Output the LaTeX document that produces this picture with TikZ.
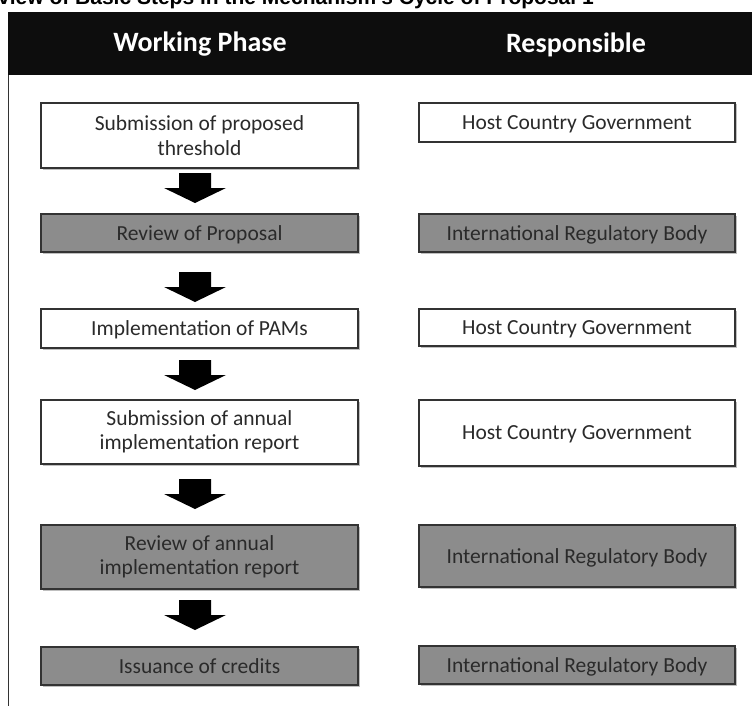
\documentclass[tikz,border=0pt]{standalone}
\usepackage{fontspec}
\setmainfont{Carlito}
\newfontfamily\titlefont{Liberation Sans}
\usetikzlibrary{shadows}
\definecolor{boxgray}{HTML}{8C8C8C}
\definecolor{edgegray}{HTML}{333333}
\definecolor{txtgray}{HTML}{2A2A2A}
\begin{document}
\begin{tikzpicture}[x=1pt,y=-1pt,
  stepbox/.style={draw=edgegray, line width=1.3pt, fill=white, text=txtgray,
    font=\fontsize{21.5}{24.5}\selectfont, align=center, inner sep=0pt,
    drop shadow={shadow xshift=1.5pt, shadow yshift=-1.5pt, fill=black, opacity=0.25}},
  oneline/.style={text depth=0pt},
  leftbox/.style={stepbox, minimum width=317pt},
  rightbox/.style={stepbox, oneline, minimum width=316pt},
  greybox/.style={fill=boxgray},
  headtext/.style={text=white, font=\bfseries\fontsize{28}{30}\selectfont},
  blockarrow/.style={fill=black}
]
\useasboundingbox (0,0) rectangle (752,706);
% title (clipped at top)
\node[anchor=base west, inner sep=0pt, font=\titlefont\bfseries\fontsize{21}{24}\selectfont] (title) at (-2,5)
  {view of Basic Steps in the Mechanism’s Cycle of Proposal 1};
% header bar
\fill[black!95] (8,12.5) rectangle (760,75);
\node[headtext] (hwp) at (200,44.5) {Working Phase};
\node[headtext] (hresp) at (576,44.5) {Responsible};
% left frame line
\draw[edgegray, line width=1.2pt] (8.6,75) -- (8.6,708);
% left column
\node[leftbox, minimum height=65pt] (l1) at (199.5,135.5) {Submission of proposed\\threshold};
\node[leftbox, oneline, greybox, minimum height=38pt] (l2) at (199.5,233) {Review of Proposal};
\node[leftbox, oneline, minimum height=39pt] (l3) at (199.5,328.5) {Implementation of PAMs};
\node[leftbox, minimum height=64pt] (l4) at (199.5,432) {Submission of annual\\implementation report};
\node[leftbox, greybox, minimum height=64pt] (l5) at (199.5,557) {Review of annual\\implementation report};
\node[leftbox, oneline, greybox, minimum height=38pt] (l6) at (199.5,666) {Issuance of credits};
% right column
\node[rightbox, minimum height=39pt] (r1) at (577,122.5) {Host Country Government};
\node[rightbox, greybox, minimum height=38pt] (r2) at (577,233) {International Regulatory Body};
\node[rightbox, minimum height=37pt] (r3) at (577,327.5) {Host Country Government};
\node[rightbox, minimum height=66pt] (r4) at (577,433) {Host Country Government};
\node[rightbox, greybox, minimum height=62pt] (r5) at (577,556) {International Regulatory Body};
\node[rightbox, greybox, minimum height=38pt] (r6) at (577,665) {International Regulatory Body};
% block arrows between steps
\foreach \t in {173,272,360,479,600}{
  \fill[blockarrow] (179,\t) -- (211,\t) -- (211,\t+15) -- (226,\t+15) -- (195,\t+30)
     -- (164,\t+15) -- (179,\t+15) -- cycle;
}
\end{tikzpicture}
\end{document}
